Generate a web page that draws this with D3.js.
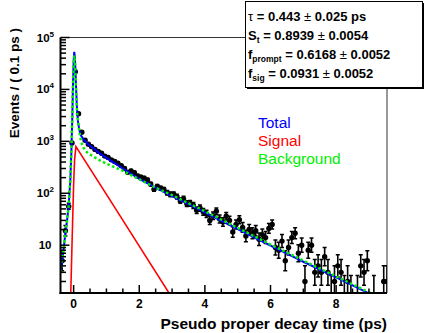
<!DOCTYPE html>
<html><head><meta charset="utf-8">
<script src="https://cdn.jsdelivr.net/npm/d3@7"></script>
<style>
body{margin:0;background:#fff}
svg{display:block}
text{font-family:"Liberation Sans",Arial,Helvetica,sans-serif}
</style>
</head><body>
<svg id="c" width="425" height="333"></svg>
<script>
// ---------- data ----------
const binCenters = [-0.35,-0.25,-0.15,-0.05,0.05,0.15,0.25,0.35,0.45,0.55,0.65,0.75,0.85,0.95,
  1.05,1.15,1.25,1.35,1.45,1.55,1.65,1.75,1.85,1.95,2.05,2.15,2.25,2.35,2.45,2.55,2.65,2.75,2.85,2.95,
  3.05,3.15,3.25,3.35,3.45,3.55,3.65,3.75,3.85,3.95,4.05,4.15,4.25,4.35,4.45,4.55,4.65,4.75,4.85,4.95,
  5.05,5.15,5.25,5.35,5.45,5.55,5.65,5.75,5.85,5.95,6.05,6.15,6.25,6.35,6.45,6.55,6.65,6.75,6.85,6.95,
  7.05,7.15,7.25,7.35,7.45,7.55,7.65,7.75,7.85,7.95,8.05,8.15,8.25,8.35,8.45,8.55,8.65,8.75,8.85,8.95,
  9.05,9.15,9.25,9.35,9.45,9.55];
const counts = [5,19,56,930,22000,3400,1500,1050,880,790,700,640,590,520,
  490,440,410,380,340,300,255,270,250,215,205,195,180,150,120,135,125,118,102,95,
  96,86,72,78,63,64,58,47,52,44,40,30,37,45,32,28,36,30,18,25,
  31,22,15,20,17,19,13,16,14,21,25,9,8,12,5,9,14,17,7,10,
  2,8,10,3,4,3,6,3,1,2,4,3,1,2,1,0,1,4,3,5,
  0,1,0,0,2,2];

const totalX = [-0.40,-0.35,-0.30,-0.25,-0.20,-0.15,-0.10,-0.07,-0.04,-0.02,0.00,0.02,0.04,0.06,0.08,0.10,0.13,0.17,0.22,0.30,0.40,0.50,0.60,0.80,1.00,1.50,2.00,2.50,3.00,3.50,4.00,4.50,5.00,5.50,6.00,6.50,7.00,7.50,8.00,8.50,9.00,9.55];
const totalY = [3.0,5.0,9,17,30,58,180,600,3000,12000,35000,53000,40000,20000,9000,4500,2500,1700,1300,1100,930,820,740,580,480,300,190,128,88,62,43,29.5,20.5,14.2,9.8,6.9,4.8,3.4,2.4,1.68,1.18,0.8];

const signalX = [-0.09,-0.05,0.00,0.03,0.07,1.00,2.00,3.00];
const signalY = [1.0,10,150,450,790,95,9.6,0.97];

const bkgX = [-0.40,-0.35,-0.30,-0.25,-0.20,-0.15,-0.10,-0.07,-0.04,-0.02,0.00,0.02,0.04,0.06,0.08,0.10,0.15,0.20,0.25,0.30,0.40,0.50,0.60,0.80,1.00,1.50,2.00,2.50,3.00,4.00,5.00,6.00,7.00,8.00,9.00,9.55];
const bkgY = [3.0,5.0,9,17,30,58,180,600,3000,11000,32000,45000,34000,16000,7500,4000,2000,1200,900,750,620,560,510,430,370,270,185,128,92,45,21.5,10.3,5.05,2.5,1.24,0.84];

const paramNames = [["τ",""],["S","t"],["f","prompt"],["f","sig"]];
const paramValues = ["0.443","0.8939","0.6168","0.0931"];
const paramErrors = ["0.025","0.0054","0.0052","0.0052"];
const paramUnits = [" ps","","",""];

const legendLabels = ["Total","Signal","Background"];
const legendColors = ["#0000ff","#ff0000","#00ee00"];

const xTicksMajor = [0,2,4,6,8];
const yDecades = [10,100,1000,10000,100000];
const yDecadeExp = [1,2,3,4,5];

// ---------- drawing ----------
const svg = d3.select("#c");
const L = 60.5, R = 387, T = 37.5, B = 293;
const x = d3.scaleLinear().domain([-0.4, 9.55]).range([L, R]);
const y = d3.scaleLog().domain([1.2, 100000]).range([B, T]);

svg.append("defs").append("clipPath").attr("id","pc")
  .append("rect").attr("x",L).attr("y",T).attr("width",R-L).attr("height",B-T);

// frame top & right
svg.append("line").attr("x1",L).attr("x2",R).attr("y1",T).attr("y2",T).attr("stroke","#333").attr("stroke-width",1);
svg.append("line").attr("x1",R).attr("x2",R).attr("y1",T).attr("y2",B).attr("stroke","#333").attr("stroke-width",1);

// data points
const g = svg.append("g").attr("clip-path","url(#pc)");
const pts = binCenters.map((c,i)=>({c, n:counts[i]})).filter(d=>d.n>0);
const lo = n => n + 0.5 - Math.sqrt(n + 0.25);
const hi = n => n + 0.5 + Math.sqrt(n + 0.25);
const yc = v => y(Math.max(v, 0.5));
g.selectAll("line.eb").data(pts).join("line").attr("class","eb")
  .attr("x1",d=>x(d.c)).attr("x2",d=>x(d.c))
  .attr("y1",d=>yc(lo(d.n))).attr("y2",d=>yc(hi(d.n)))
  .attr("stroke","#000").attr("stroke-width",1.6);
g.selectAll("line.cap1").data(pts).join("line")
  .attr("x1",d=>x(d.c)-2).attr("x2",d=>x(d.c)+2)
  .attr("y1",d=>yc(hi(d.n))).attr("y2",d=>yc(hi(d.n)))
  .attr("stroke","#000").attr("stroke-width",1.5);
g.selectAll("line.cap2").data(pts).join("line")
  .attr("x1",d=>x(d.c)-2).attr("x2",d=>x(d.c)+2)
  .attr("y1",d=>yc(lo(d.n))).attr("y2",d=>yc(lo(d.n)))
  .attr("stroke","#000").attr("stroke-width",1.5);
g.selectAll("line.xe").data(pts).join("line")
  .attr("x1",d=>x(d.c-0.05)).attr("x2",d=>x(d.c+0.05))
  .attr("y1",d=>y(d.n)).attr("y2",d=>y(d.n))
  .attr("stroke","#000").attr("stroke-width",1.5);
g.selectAll("circle").data(pts).join("circle")
  .attr("cx",d=>x(d.c)).attr("cy",d=>y(d.n)).attr("r",2.7).attr("fill","#000");

// curves
const line = d3.line().x(d=>x(d[0])).y(d=>y(Math.max(d[1],0.3)));
g.append("path").datum(totalX.map((v,i)=>[v,totalY[i]])).attr("d",line)
  .attr("fill","none").attr("stroke","#0000ff").attr("stroke-width",2);
g.append("path").datum(signalX.map((v,i)=>[v,signalY[i]])).attr("d",line)
  .attr("fill","none").attr("stroke","#ff0000").attr("stroke-width",1.6);
g.append("path").datum(bkgX.map((v,i)=>[v,bkgY[i]])).attr("d",line)
  .attr("fill","none").attr("stroke","#00ee00").attr("stroke-width",2.5)
  .attr("stroke-dasharray","2.5,2.5");

// axes lines
svg.append("line").attr("x1",L).attr("x2",L).attr("y1",T).attr("y2",B+1).attr("stroke","#000").attr("stroke-width",2);
svg.append("line").attr("x1",L-1).attr("x2",R).attr("y1",B).attr("y2",B).attr("stroke","#000").attr("stroke-width",2);

// x ticks
const xMinor = d3.range(0, 19).map(i=>i*0.5).filter(v=>v<=9.55);
svg.selectAll("line.xm").data(xMinor).join("line")
  .attr("x1",d=>x(d)).attr("x2",d=>x(d))
  .attr("y1",B).attr("y2",d=> xTicksMajor.includes(d) ? B-8 : B-4.5)
  .attr("stroke","#000").attr("stroke-width",1.5);
svg.selectAll("text.xl").data(xTicksMajor).join("text")
  .attr("x",d=>x(d)).attr("y",308).attr("text-anchor","middle")
  .attr("font-size","12px").attr("font-weight","bold").text(d=>d);

// y ticks
const yMinor = [];
[1,10,100,1000,10000].forEach(dec=>{ for(let k=1;k<=9;k++){ const v=dec*k; if(v>=1.2 && v<=100000) yMinor.push(v);} });
yMinor.push(100000);
svg.selectAll("line.ym").data(yMinor).join("line")
  .attr("x1",L).attr("x2",d=> yDecades.includes(d) ? L+9 : L+5.5)
  .attr("y1",d=>y(d)).attr("y2",d=>y(d))
  .attr("stroke","#000").attr("stroke-width",1.5);
yDecades.forEach((v,i)=>{
  const t = svg.append("text").attr("y",y(v)+4).attr("text-anchor","end")
    .attr("font-size","11.5px").attr("font-weight","bold");
  if (yDecadeExp[i]===1){ t.attr("x",51.5).text("10"); }
  else {
    t.attr("x",54);
    t.append("tspan").text("10");
    t.append("tspan").attr("font-size","8px").attr("dy",-5).text(yDecadeExp[i]);
  }
});

// axis titles
svg.append("text").attr("x",387).attr("y",329).attr("text-anchor","end")
  .attr("font-size","15.5px").attr("font-weight","bold").text("Pseudo proper decay time (ps)");
svg.append("text").attr("transform","translate(18.5,28) rotate(-90)").attr("text-anchor","end")
  .attr("font-size","13.5px").attr("font-weight","bold").text("Events / ( 0.1 ps )");

// legend
legendLabels.forEach((s,i)=>{
  svg.append("text").attr("x",258).attr("y",128+i*18).attr("font-size","15.5px")
    .attr("fill",legendColors[i]).text(s);
});

// stat box
svg.append("rect").attr("x",247).attr("y",3).attr("width",177).attr("height",86).attr("fill","#000");
svg.append("rect").attr("x",245.5).attr("y",1.5).attr("width",177).attr("height",86)
  .attr("fill","#fff").attr("stroke","#000").attr("stroke-width",1);
paramNames.forEach((p,i)=>{
  const t = svg.append("text").attr("x",248).attr("y",20.5+i*19)
    .attr("font-size","13px").attr("font-weight","bold");
  t.append("tspan").attr("font-weight", i===0 ? "normal" : "bold").text(p[0]);
  if (p[1]) t.append("tspan").attr("font-size","8.5px").attr("dy",3).text(p[1]);
  t.append("tspan").attr("dy", p[1] ? -3 : 0).text(" =  " + paramValues[i]);
  t.append("tspan").attr("font-weight","normal").text(" ± ");
  t.append("tspan").text(paramErrors[i] + paramUnits[i]);
});
</script>
</body></html>
